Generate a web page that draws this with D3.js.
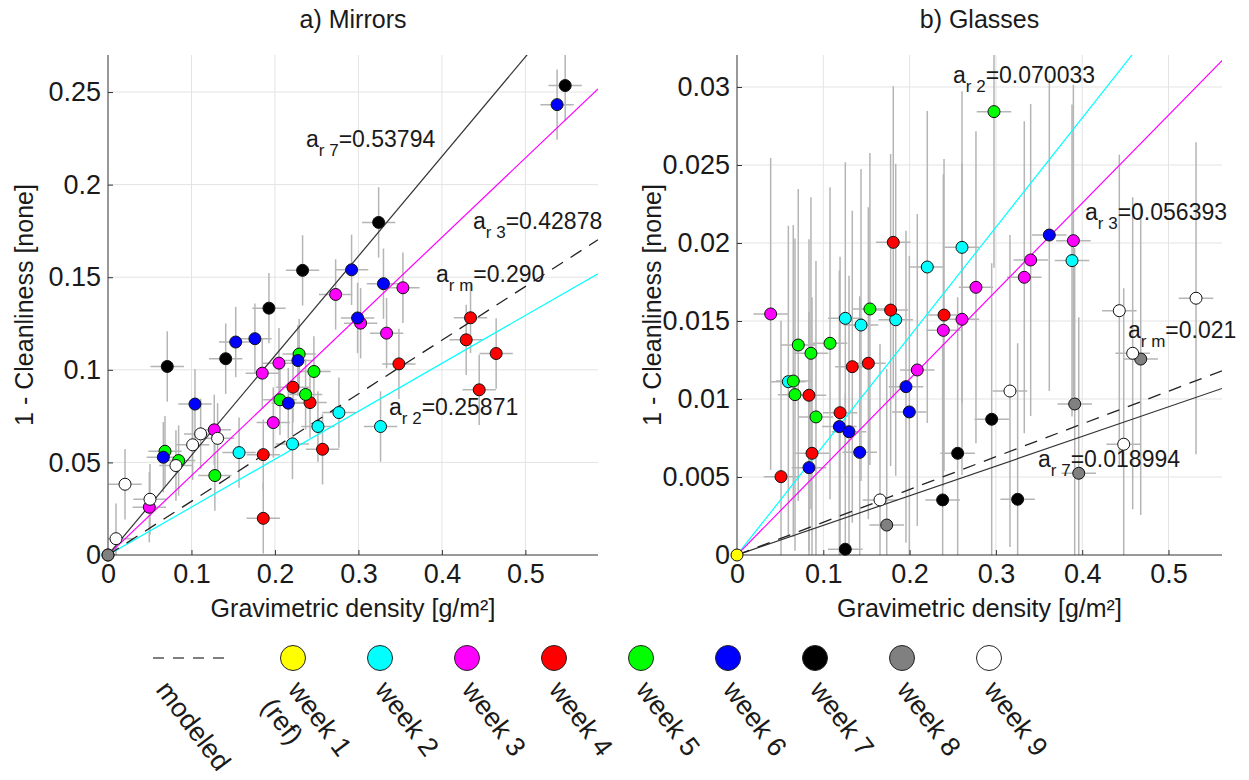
<!DOCTYPE html>
<html><head><meta charset="utf-8">
<script src="https://cdn.jsdelivr.net/npm/d3@7"></script>
<style>
html,body{margin:0;padding:0;background:#fff;}
svg{display:block;font-family:"Liberation Sans",Arial,Helvetica,sans-serif;}
</style></head>
<body><svg id="chart" width="1249" height="780"></svg>
<script>
// ---------- data ----------
const weekLabels = ["week 1|(ref)","week 2","week 3","week 4","week 5","week 6","week 7","week 8","week 9"];
const weekColors = ["#ffff00","#00ffff","#ff00ff","#ff0000","#00ff00","#0000ff","#000000","#808080","#ffffff"];

// a) Mirrors  [gravimetric density, 1 - cleanliness]
const mirrorsW1 = [[0,0]];
const mirrorsW2 = [[0.157,0.0553],[0.221,0.0600],[0.2515,0.0694],[0.2766,0.0769],[0.3265,0.0694]];
const mirrorsW3 = [[0.0495,0.0258],[0.1273,0.0676],[0.1848,0.0982],[0.198,0.0715],[0.2048,0.1036],[0.2727,0.1407],[0.3026,0.1252],[0.3337,0.1198],[0.3533,0.1443]];
const mirrorsW4 = [[0.186,0.0198],[0.186,0.0542],[0.2216,0.0906],[0.242,0.0823],[0.257,0.0571],[0.3485,0.1032],[0.4291,0.1162],[0.4343,0.1281],[0.4447,0.0892],[0.465,0.1088]];
const mirrorsW5 = [[0.0683,0.056],[0.0846,0.051],[0.128,0.0429],[0.206,0.0838],[0.229,0.1085],[0.2367,0.0867],[0.2467,0.0991]];
const mirrorsW6 = [[0.0663,0.0528],[0.1042,0.0815],[0.153,0.115],[0.176,0.1168],[0.216,0.082],[0.2275,0.105],[0.2918,0.154],[0.299,0.128],[0.330,0.1465],[0.538,0.2432]];
const mirrorsW7 = [[0.071,0.1018],[0.141,0.106],[0.1928,0.1333],[0.2331,0.1537],[0.3242,0.1796],[0.5477,0.2535]];
const mirrorsW8 = [[0,0]];
const mirrorsW9 = [[0.0096,0.0088],[0.0204,0.0382],[0.0503,0.0301],[0.0814,0.0483],[0.1014,0.0595],[0.111,0.0654],[0.1313,0.063]];
const mirrorsXErr = 0.02, mirrorsYErr = 0.019;
const mirrorsFitWeeks = [2,3,7,"m"];
const mirrorsFitSlopes = ["0.25871","0.42878","0.53794","0.290"];

// b) Glasses
const glassesW1 = [[0,0]];
const glassesW2 = [[0.0595,0.01111],[0.1255,0.01517],[0.1437,0.01474],[0.1839,0.01508],[0.2205,0.01846],[0.2607,0.01972],[0.3882,0.01887]];
const glassesW3 = [[0.039,0.01545],[0.2089,0.01186],[0.2391,0.0144],[0.2607,0.01511],[0.2769,0.01716],[0.3329,0.0178],[0.3403,0.01891],[0.3898,0.02015]];
const glassesW4 = [[0.051,0.00502],[0.0834,0.01024],[0.0869,0.00652],[0.1194,0.00912],[0.1336,0.01207],[0.1522,0.01229],[0.178,0.0157],[0.1811,0.02004],[0.2399,0.01538]];
const glassesW5 = [[0.0652,0.01115],[0.0672,0.01028],[0.071,0.01346],[0.0857,0.01293],[0.0915,0.00885],[0.1078,0.01357],[0.154,0.01577],[0.2978,0.02842]];
const glassesW6 = [[0.0834,0.0056],[0.1186,0.00823],[0.1298,0.0079],[0.1422,0.00658],[0.1958,0.01079],[0.1997,0.00917],[0.3619,0.02051]];
const glassesW7 = [[0.1255,0.00037],[0.2383,0.00353],[0.2557,0.00652],[0.2951,0.0087],[0.3252,0.00357]];
const glassesW8 = [[0.1735,0.00192],[0.3913,0.00968],[0.396,0.00524],[0.4678,0.01256]];
const glassesW9 = [[0.1657,0.00353],[0.3163,0.01051],[0.443,0.01566],[0.4481,0.0071],[0.4585,0.01293],[0.5319,0.01646]];
const glassesXErr = 0.02, glassesYErr = 0.01;
const glassesFitWeeks = [2,3,7,"m"];
const glassesFitSlopes = ["0.070033","0.056393","0.018994","0.021"];

const mirrorsXTicks = [0,0.1,0.2,0.3,0.4,0.5];
const mirrorsXTickLabels = ["0","0.1","0.2","0.3","0.4","0.5"];
const mirrorsYTicks = [0,0.05,0.1,0.15,0.2,0.25];
const mirrorsYTickLabels = ["0","0.05","0.1","0.15","0.2","0.25"];
const glassesXTicks = [0,0.1,0.2,0.3,0.4,0.5];
const glassesXTickLabels = ["0","0.1","0.2","0.3","0.4","0.5"];
const glassesYTicks = [0,0.005,0.01,0.015,0.02,0.025,0.03];
const glassesYTickLabels = ["0","0.005","0.01","0.015","0.02","0.025","0.03"];

// ---------- layout ----------
const svg = d3.select("#chart");
const TXT = "#1a1a1a";
const panels = [
  {key:"m", title:"a) Mirrors", left:108, right:598, top:55, bottom:555, xmax:0.587, ymax:0.27,
   weeks:[mirrorsW1,mirrorsW2,mirrorsW3,mirrorsW4,mirrorsW5,mirrorsW6,mirrorsW7,mirrorsW8,mirrorsW9],
   xErr:mirrorsXErr, yErr:mirrorsYErr, fitWeeks:mirrorsFitWeeks, fitSlopes:mirrorsFitSlopes,
   xTicks:mirrorsXTicks, xTickLabels:mirrorsXTickLabels, yTicks:mirrorsYTicks, yTickLabels:mirrorsYTickLabels,
   ylabX:24,
   ann:{2:[389,415],3:[473,229],7:[306,147],m:[436,282]}},
  {key:"g", title:"b) Glasses", left:737, right:1222, top:55, bottom:555, xmax:0.562, ymax:0.03205,
   weeks:[glassesW1,glassesW2,glassesW3,glassesW4,glassesW5,glassesW6,glassesW7,glassesW8,glassesW9],
   xErr:glassesXErr, yErr:glassesYErr, fitWeeks:glassesFitWeeks, fitSlopes:glassesFitSlopes,
   xTicks:glassesXTicks, xTickLabels:glassesXTickLabels, yTicks:glassesYTicks, yTickLabels:glassesYTickLabels,
   ylabX:652,
   ann:{2:[953,83],3:[1085,220],7:[1038,467],m:[1128,338]}}
];
const lineColor = {2:"#00ffff",3:"#ff00ff",7:"#333333",m:"#222222"};

panels.forEach((p,pi)=>{
  const x = d3.scaleLinear().domain([0,p.xmax]).range([p.left,p.right]);
  const y = d3.scaleLinear().domain([0,p.ymax]).range([p.bottom,p.top]);
  const g = svg.append("g");
  const clipId = "clip"+pi;
  svg.append("clipPath").attr("id",clipId).append("rect")
    .attr("x",p.left).attr("y",p.top).attr("width",p.right-p.left).attr("height",p.bottom-p.top);

  // grid
  const grid = g.append("g").attr("stroke","#e3e3e3").attr("stroke-width",1);
  p.xTicks.forEach(t=>{ if(t>0) grid.append("line").attr("x1",x(t)).attr("x2",x(t)).attr("y1",p.top).attr("y2",p.bottom); });
  p.yTicks.forEach(t=>{ if(t>0) grid.append("line").attr("x1",p.left).attr("x2",p.right).attr("y1",y(t)).attr("y2",y(t)); });

  // error bars
  const eb = g.append("g").attr("clip-path",`url(#${clipId})`).attr("stroke","#b5b5b5").attr("stroke-width",1.5);
  p.weeks.forEach((pts,wi)=>{
    pts.forEach(d=>{
      if(d[0]===0 && d[1]===0) return;
      eb.append("line").attr("x1",x(d[0]-p.xErr)).attr("x2",x(d[0]+p.xErr)).attr("y1",y(d[1])).attr("y2",y(d[1]));
      eb.append("line").attr("x1",x(d[0])).attr("x2",x(d[0])).attr("y1",y(d[1]-p.yErr)).attr("y2",y(d[1]+p.yErr));
    });
  });

  // fit lines
  const lg = g.append("g").attr("clip-path",`url(#${clipId})`);
  p.fitWeeks.forEach((wk,i)=>{
    const a = +p.fitSlopes[i];
    const line = d3.line().x(d=>x(d)).y(d=>y(a*d));
    lg.append("path").attr("d",line([0,p.xmax])).attr("fill","none")
      .attr("stroke",lineColor[wk]).attr("stroke-width",wk==="m"?1.3:1.2)
      .attr("stroke-dasharray",wk==="m"?"13,9":null);
  });

  // axes
  const xAxis = d3.axisBottom(x).tickValues(p.xTicks).tickFormat((d,i)=>p.xTickLabels[i])
    .tickSizeInner(-5).tickSizeOuter(0).tickPadding(9);
  const yAxis = d3.axisLeft(y).tickValues(p.yTicks).tickFormat((d,i)=>p.yTickLabels[i])
    .tickSizeInner(-5).tickSizeOuter(0).tickPadding(7);
  const gx = g.append("g").attr("transform",`translate(0,${p.bottom})`).call(xAxis);
  const gy = g.append("g").attr("transform",`translate(${p.left},0)`).call(yAxis);
  [gx,gy].forEach(a=>{
    a.select(".domain").attr("stroke","#333").attr("stroke-width",1);
    a.selectAll(".tick line").attr("stroke","#333");
    a.selectAll(".tick text").attr("fill",TXT).style("font-size","27px")
      .style("font-family",'"Liberation Sans",Arial,sans-serif');
  });
  gx.select(".domain").attr("d",`M${p.left},0H${p.right}`);
  gy.select(".domain").attr("d",`M0,${p.top}V${p.bottom}`);

  // markers
  const mg = g.append("g");
  p.weeks.forEach((pts,wi)=>{
    mg.selectAll(null).data(pts).enter().append("circle")
      .attr("cx",d=>x(d[0])).attr("cy",d=>y(d[1])).attr("r",6)
      .attr("fill",weekColors[wi]).attr("stroke","#111").attr("stroke-width",1);
  });

  // annotations
  p.fitWeeks.forEach((wk,i)=>{
    const pos = p.ann[wk];
    const t = g.append("text").attr("x",pos[0]).attr("y",pos[1]).attr("fill",TXT).style("font-size","23px");
    t.append("tspan").text("a");
    t.append("tspan").attr("dy",9).style("font-size","17px").text("r "+(wk==="m"?"m":wk));
    t.append("tspan").attr("dy",-9).text("="+p.fitSlopes[i]);
  });

  // titles / labels
  const cx = (p.left+p.right)/2;
  g.append("text").attr("x",cx).attr("y",28).attr("text-anchor","middle").attr("fill",TXT)
    .style("font-size","25px").text(p.title);
  g.append("text").attr("x",cx).attr("y",617).attr("text-anchor","middle").attr("fill",TXT)
    .style("font-size","25px").text("Gravimetric density [g/m²]");
  g.append("text").attr("transform",`translate(${p.ylabX},${(p.top+p.bottom)/2}) rotate(-90)`)
    .attr("text-anchor","middle").attr("dominant-baseline","central").attr("fill",TXT)
    .style("font-size","25px").text("1 - Cleanliness [none]");
});

// ---------- legend ----------
const legY = 658, legX0 = 293, legStep = 87, rot = 53;
const leg = svg.append("g");
leg.append("line").attr("x1",153).attr("x2",230).attr("y1",legY).attr("y2",legY)
  .attr("stroke","#555").attr("stroke-width",1.6).attr("stroke-dasharray","11,9");
leg.append("text").attr("transform",`translate(155,690) rotate(${rot})`).attr("fill",TXT)
  .style("font-size","27px").text("modeled");
weekLabels.forEach((lab,i)=>{
  const cxl = legX0 + i*legStep;
  leg.append("circle").attr("cx",cxl).attr("cy",legY).attr("r",12.5)
    .attr("fill",weekColors[i]).attr("stroke","#222").attr("stroke-width",1);
  const parts = lab.split("|");
  parts.forEach((s,j)=>{
    leg.append("text").attr("transform",`translate(${cxl-6 - j*27},${690 + j*17}) rotate(${rot})`)
      .attr("fill",TXT).style("font-size","27px").text(s);
  });
});
</script></body></html>
